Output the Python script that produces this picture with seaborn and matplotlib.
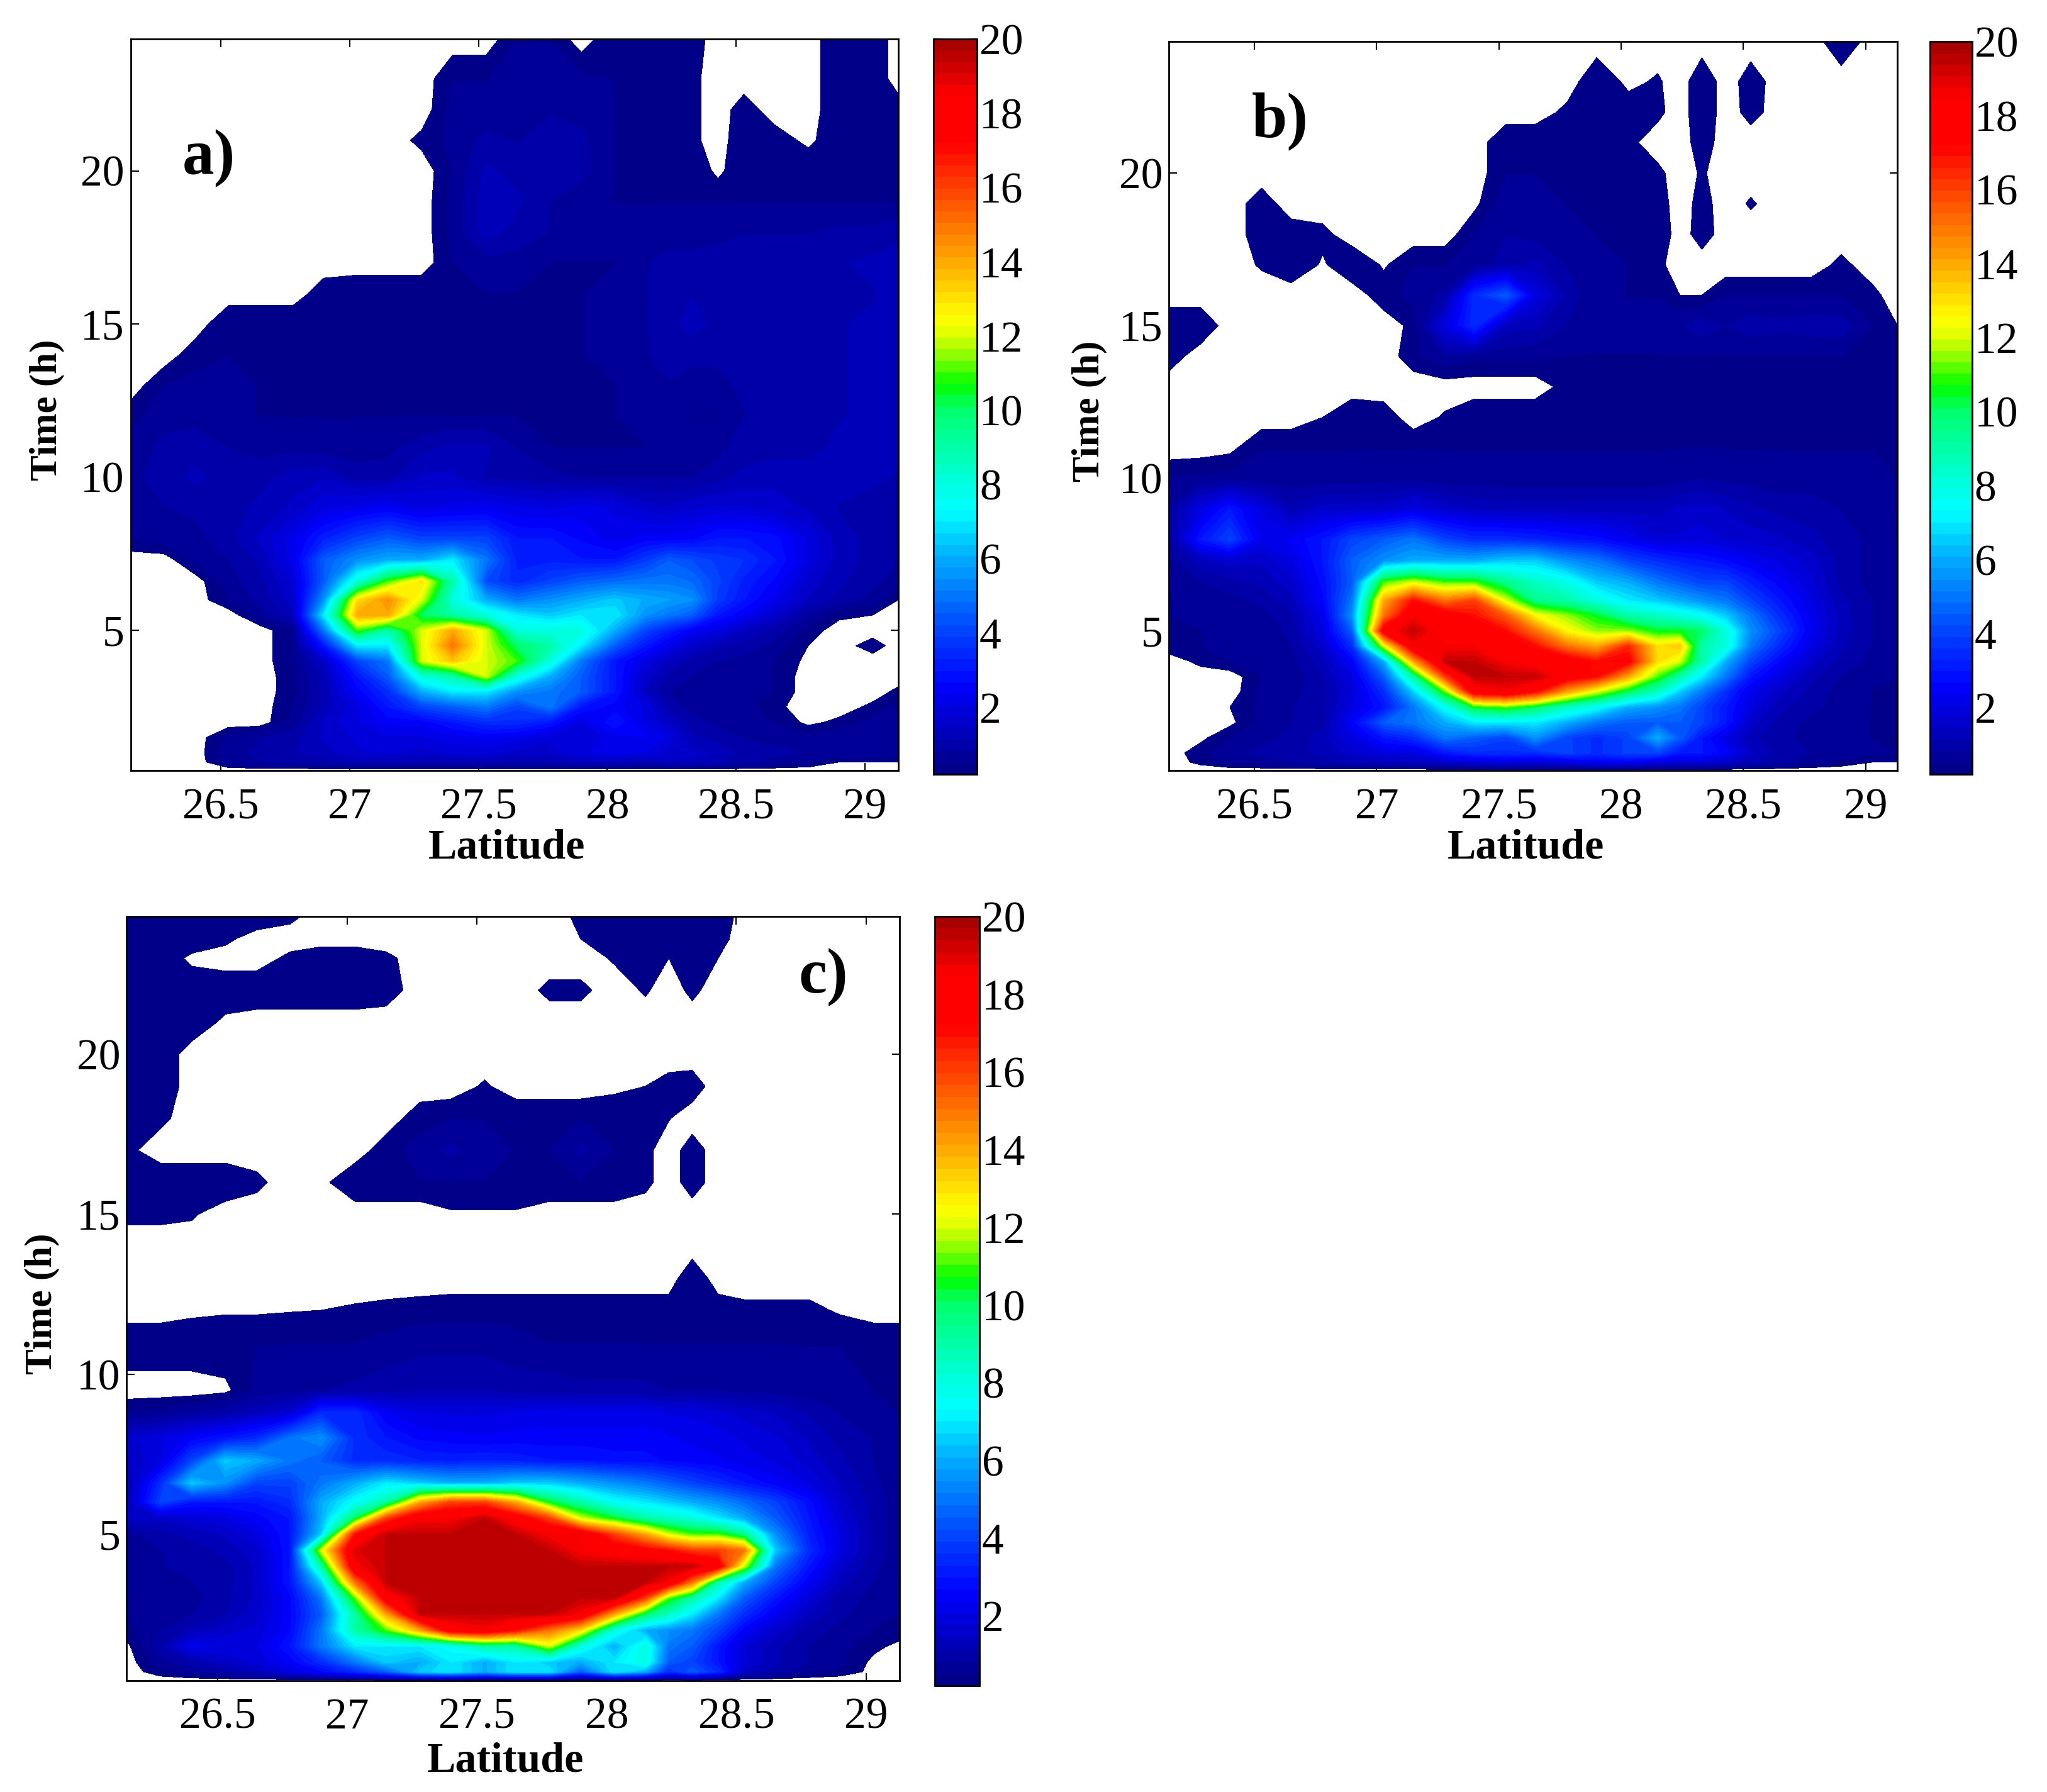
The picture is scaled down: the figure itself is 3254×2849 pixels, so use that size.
import numpy as np
import seaborn as sns
import matplotlib.pyplot as plt
from matplotlib.colors import ListedColormap

# grid of the three panels (0 = below the lowest contour, left white)
latitude = [26.15, 26.28, 26.40, 26.53, 26.65, 26.78, 26.90, 27.03, 27.15, 27.28, 27.40, 27.53, 27.65,
            27.78, 27.90, 28.03, 28.15, 28.24, 28.33, 28.43, 28.53, 28.65, 28.78, 28.90, 29.03, 29.13]
time_ab = [24.3, 23, 22, 21, 20, 19, 18, 17, 16, 15, 14, 13, 12, 11, 10, 9, 8, 7.3, 6.6, 6, 5.5, 5, 4.5,
           4, 3.5, 3, 2.5, 2, 1.5, 1, 0.7, 0.43]
time_c = [24.3, 23.6, 23, 22, 21, 20, 19, 18, 17, 16, 15, 14, 13, 12, 11, 9.5, 8.8, 8, 7.3, 6.6, 6, 5.5, 5, 4.5,
          4, 3.5, 3, 2.5, 2, 1.5, 1, 0.7, 0.43]

rain_a = [
    [0, 0, 0, 0, 0, 0, 0, 0, 0, 0, 0, 0, .5, .5, 0, .5, .5, .5, .4, 0, 0, 0, 0, .5, .5, 0],
    [0, 0, 0, 0, 0, 0, 0, 0, 0, 0, .5, .5, .6, .6, .6, .5, .5, .5, .3, 0, 0, 0, 0, .5, .5, 0],
    [0, 0, 0, 0, 0, 0, 0, 0, 0, 0, .6, .6, .7, .8, .7, .5, .5, .5, .3, 0, .4, 0, 0, .5, .5, .4],
    [0, 0, 0, 0, 0, 0, 0, 0, 0, .3, .6, .9, .8, .9, .9, .5, .5, .5, .3, 0, .5, .4, .1, .5, .5, .5],
    [0, 0, 0, 0, 0, 0, 0, 0, 0, 0, .5, 1.2, 1, 1.1, .9, .5, .5, .5, .5, .1, .5, .5, .5, .5, .5, .5],
    [0, 0, 0, 0, 0, 0, 0, 0, 0, 0, .6, 1.3, 1.2, .8, .7, .5, .5, .5, .5, .5, .5, .5, .5, .5, .5, .5],
    [0, 0, 0, 0, 0, 0, 0, 0, 0, 0, .6, 1.3, 1, .8, .7, .6, .6, .7, .7, .7, .8, .8, .8, .9, .9, 1],
    [0, 0, 0, 0, 0, 0, 0, 0, 0, 0, .5, .7, .7, .5, .5, .5, .8, .9, .9, 1, 1, 1.1, 1.1, 1.1, 1.2, 1.3],
    [0, 0, 0, 0, 0, 0, .4, .5, .5, .5, .5, .5, .5, .5, .5, .6, .8, 1, 1.1, 1, 1.1, 1, 1, 1, 1.1, 1.3],
    [0, 0, 0, .5, .5, .5, .5, .5, .5, .5, .5, .5, .5, .5, .5, .6, .8, 1, 1.3, 1, 1.1, 1.1, 1, 1.1, 1.2, 1.3],
    [0, 0, .4, .5, .5, .5, .5, .5, .5, .5, .5, .5, .5, .5, .5, .6, .8, .9, .9, .9, 1, 1.1, 1, 1.1, 1.2, 1.2],
    [0, .5, .6, .6, .5, .5, .5, .5, .5, .5, .5, .5, .5, .5, .5, .5, .7, .8, .7, .7, .9, 1, 1, 1.1, 1.2, 1.2],
    [.4, .7, .7, .6, .5, .5, .5, .5, .5, .5, .5, .5, .5, .5, .5, .5, .7, .8, .5, .5, .8, .9, .9, 1.1, 1.2, 1.2],
    [.6, .9, 1, .8, .7, .7, .6, .6, .7, 1, 1.2, 1.2, .8, .5, .5, .5, .5, .6, .7, .7, 1, 1, 1, 1.2, 1.3, 1.2],
    [.7, 1, 1.2, 1, 1, 1.3, 1.4, 1, 1, 1.5, 1.5, 1.1, 1, .9, .8, .8, .8, .8, .8, 1, 1.2, 1.3, 1.3, 1.3, 1.2, 1.1],
    [.5, .8, .9, 1, 1.2, 1.5, 2, 2.2, 2.4, 2, 2.2, 2.3, 2.1, 2, 2.2, 2, 1.6, 1.5, 1.7, 1.8, 1.8, 1.6, 1.4, 1.1, 1, .9],
    [.5, .7, .7, 1, 1.5, 2.2, 3.2, 4, 4.5, 4, 4, 4, 3, 3, 2.6, 2.2, 2.5, 2.5, 2.6, 3, 3, 2.8, 2, 1.3, 1, .9],
    [0, 0, .6, .8, 1.2, 2.2, 4.5, 5.5, 6, 6, 7, 5, 3.2, 3.2, 3, 3, 3.8, 4.5, 4.2, 3.8, 3.6, 3, 2, 1.3, 1, .8],
    [0, 0, 0, .7, 1, 1.8, 4.5, 8, 11, 13, 9, 4.2, 3.4, 4, 4.5, 4.8, 5, 5, 4.8, 4, 3.2, 2.6, 1.6, 1.2, .9, .7],
    [0, 0, 0, .5, .9, 1.6, 5.5, 13, 14.5, 12, 8, 6, 5, 5.5, 6, 6.5, 6, 5.8, 5.5, 3.8, 3, 2.2, 1.4, 1, .7, .2],
    [0, 0, 0, 0, .6, 1.3, 7, 14, 14, 10, 9, 8, 7, 6.5, 7, 7, 5.5, 5, 4.5, 3, 2.4, 1.6, .8, .3, .2, 0],
    [0, 0, 0, 0, 0, .5, 5, 11, 9, 12, 14, 12, 8, 8, 8, 6, 4, 3.2, 2.4, 2, 1.4, 1, .4, 0, 0, 0],
    [0, 0, 0, 0, 0, .5, 3, 7, 7, 12, 15, 12, 10, 9, 7, 4.5, 3, 2.2, 1.6, 1.2, 1, .7, .2, 0, .4, 0],
    [0, 0, 0, 0, 0, .5, 1.5, 4, 5, 12, 13.5, 12, 11, 8, 5, 3, 2, 1.4, 1, .8, .7, .5, .1, 0, 0, 0],
    [0, 0, 0, 0, 0, .4, 1.2, 3, 4.5, 8, 9, 12, 8, 6, 4.5, 3, 1.6, 1, .8, .7, .6, .5, 0, 0, 0, 0],
    [0, 0, 0, 0, 0, .4, 1.2, 2.5, 3.5, 6, 7, 7, 5.5, 5, 4.5, 3, 1.4, .8, .7, .6, .6, .5, 0, 0, 0, .3],
    [0, 0, 0, 0, 0, .5, 1.2, 2, 3, 4, 4.5, 5, 4, 5, 3, 2.5, 2, 1, .7, .6, .6, .3, 0, 0, .3, .6],
    [0, 0, 0, 0, 0, .6, 1.5, 2, 2.5, 2.5, 3, 3.5, 3.5, 3, 2, 3, 2, 1.5, 1, .7, .6, .5, .1, .3, .6, .7],
    [0, 0, 0, .6, .8, 1, 1.5, 1.8, 2, 2, 2.2, 2.4, 2.2, 1.8, 1.8, 2.2, 2.4, 2, 1.2, 1, .8, .7, .6, .7, .8, .7],
    [0, 0, 0, .7, .9, 1.1, 1.3, 1.7, 1.8, 1.6, 1.8, 1.8, 1.6, 1.6, 2, 2.2, 2, 1.6, 1.5, 1.4, 1, .9, .8, .8, .8, .7],
    [0, 0, 0, .6, .8, .9, 1, 1.2, 1.2, 1.1, 1.1, 1.2, 1, 1.1, 1.3, 1.3, 1.2, 1.4, 1.4, 1.2, .9, .7, .5, .2, .2, .2],
    [0, 0, 0, 0, 0, 0, 0, 0, 0, 0, 0, 0, 0, 0, 0, 0, 0, 0, 0, 0, 0, 0, 0, 0, 0, 0],
]

rain_b = [
    [0, 0, 0, 0, 0, 0, 0, 0, 0, 0, 0, 0, 0, 0, 0, 0, 0, 0, 0, 0, 0, 0, 0, .5, 0, 0],
    [0, 0, 0, 0, 0, 0, 0, 0, 0, 0, 0, 0, 0, 0, .5, .1, .25, 0, .5, 0, .4, 0, 0, 0, 0, 0],
    [0, 0, 0, 0, 0, 0, 0, 0, 0, 0, 0, 0, 0, .3, .5, .4, .3, 0, .5, 0, .35, 0, 0, 0, 0, 0],
    [0, 0, 0, 0, 0, 0, 0, 0, 0, 0, 0, .5, .5, .5, .5, .3, 0, 0, .4, 0, 0, 0, 0, 0, 0, 0],
    [0, 0, 0, 0, 0, 0, 0, 0, 0, 0, 0, .5, .5, .5, .5, .5, .3, 0, .25, 0, 0, 0, 0, 0, 0, 0],
    [0, 0, 0, .4, 0, 0, 0, 0, 0, 0, .1, .7, .6, .5, .5, .5, .4, 0, .35, 0, .25, 0, 0, 0, 0, 0],
    [0, 0, 0, .4, .4, .3, 0, 0, 0, 0, .5, .8, .7, .6, .5, .5, .5, 0, .4, 0, 0, 0, 0, 0, 0, 0],
    [0, 0, 0, .25, .5, .15, .5, .15, .5, .5, .6, 1, 1.2, .8, .6, .5, .3, 0, 0, 0, 0, 0, 0, .3, 0, 0],
    [0, 0, 0, 0, 0, 0, 0, .4, .6, .9, 3.5, 4.5, 2, 1, .6, .5, .5, .2, .2, .5, .5, .5, .5, .5, .3, 0],
    [.5, .5, 0, 0, 0, 0, 0, 0, .3, 2, 3.5, 1.3, 1.2, .8, .6, .6, .6, .8, 1, .8, 1, .9, 1, 1, .5, .2],
    [.4, 0, 0, 0, 0, 0, 0, 0, .4, .8, .6, .6, .6, .5, .5, .5, .5, .5, .5, .5, .5, .5, .5, .5, .5, .5],
    [0, 0, 0, 0, 0, 0, 0, 0, 0, 0, 0, 0, 0, .35, .5, .5, .5, .5, .5, .5, .5, .5, .5, .5, .5, .5],
    [0, 0, 0, 0, 0, .2, .5, .4, 0, .25, .5, .5, .5, .5, .5, .5, .5, .5, .5, .5, .5, .5, .5, .5, .5, .5],
    [0, 0, .1, .5, .5, .5, .5, .5, .5, .5, .5, .5, .5, .5, .5, .5, .5, .5, .5, .5, .5, .5, .5, .5, .5, .5],
    [.5, .6, .6, .6, .6, .6, .6, .7, .7, .6, .6, .6, .6, .6, .6, .6, .6, .7, .8, .7, .7, .6, .6, .6, .6, .5],
    [.8, 2, 3, 2, 1.2, 1.6, 1.6, 1.6, 2, 1.6, 1.4, 1.3, 1.3, 1.3, 1.3, 1.3, 1.3, 1.5, 1.6, 1.4, 1.2, 1, 1, .8, .6, .5],
    [.8, 3, 4, 2.2, 2.4, 3, 4, 4.5, 5, 4, 3.5, 3.5, 3.3, 3, 2.8, 2.3, 1.8, 1.8, 1.9, 1.7, 1.6, 1.5, 1.2, 1, .7, .5],
    [.7, 1.3, 1.6, 1.5, 2, 3, 4.6, 5.5, 6, 6, 6, 6.5, 6.5, 5.5, 5, 4, 3.5, 3.2, 3, 2.7, 2.3, 2, 1.6, 1, .7, .5],
    [.5, .8, 1, 1.2, 1.6, 2.8, 4.5, 11, 12, 11, 11, 9.5, 8.5, 7.8, 6.5, 6, 5, 4.5, 4, 4, 3.2, 2.5, 1.8, 1, .7, .5],
    [.5, .6, .7, .9, 1.3, 2.6, 5, 14, 17, 15, 16, 12, 9.5, 9, 8, 7, 6.5, 6, 5.5, 5, 4, 3, 2, 1.2, .8, .5],
    [.5, .6, .6, .7, 1, 2.2, 5.5, 15, 18.5, 18, 17, 15.5, 12.5, 11.5, 10.5, 9, 8.5, 8, 7.5, 6.5, 5, 3.5, 2.2, 1.3, .8, .5],
    [.5, .5, .6, .6, .9, 2, 4.5, 18, 19.4, 18, 18, 17, 15, 12.5, 11.5, 11.5, 10.5, 10.5, 10, 8, 5.5, 4, 2.3, 1.3, .8, .5],
    [.4, .5, .6, .6, .8, 1.6, 3.5, 12, 18.5, 18.5, 18.5, 18, 17, 15, 14, 16.5, 13, 13.5, 9, 8, 5, 3.4, 2, 1.2, .8, .5],
    [0, .3, .5, .6, .7, 1.3, 2.5, 6, 14, 19.4, 19.4, 18.5, 18, 18, 17, 17.5, 13, 12, 9, 6, 4, 2.6, 1.6, 1, .7, .5],
    [0, 0, 0, .5, .6, 1.1, 2, 4.5, 9, 16, 19.4, 19.4, 19.4, 18, 17, 14, 11, 9, 7, 5, 3, 2, 1.2, .8, .6, .5],
    [0, 0, 0, .6, .7, 1, 1.8, 3.5, 6.5, 11, 18, 18.5, 17, 14, 12, 10, 8.5, 6.5, 5, 3.5, 2.2, 1.5, 1, .7, .5, .5],
    [0, 0, .2, .6, .8, 1, 2, 3, 5, 7.5, 10.5, 11, 10, 8.5, 7.5, 6, 5.5, 5, 4, 3, 2, 1.2, .9, .7, .5, .5],
    [0, 0, .1, .6, .8, 1, 2.5, 4.5, 5, 6, 7, 7, 7, 6, 5, 4.5, 4.5, 4.5, 4, 3, 1.6, 1, .7, .6, .5, .5],
    [0, .1, .5, .7, .9, 1.3, 2, 3, 3.5, 5, 4.5, 4, 5.5, 4, 3.5, 4, 6, 4.5, 3, 2, 1.2, .9, .7, .6, .5, .5],
    [0, .4, .7, .9, 1, 1.2, 1.6, 2, 2, 3, 3.5, 3.5, 3.5, 4, 3.5, 4, 4, 3, 3, 2.5, 1.5, 1, .8, .7, .6, .5],
    [0, .3, .6, .7, .8, 1, 1.2, 1.3, 1.4, 1.6, 1.8, 2, 1.8, 2, 2.4, 2.4, 2, 1.8, 1.8, 1.6, 1.2, .9, .6, .4, .2, .2],
    [0, 0, 0, 0, 0, 0, 0, 0, 0, 0, 0, 0, 0, 0, 0, 0, 0, 0, 0, 0, 0, 0, 0, 0, 0, 0],
]

rain_c = [
    [.5, .5, .5, .5, .5, .3, 0, 0, 0, 0, 0, 0, 0, 0, .3, .5, .5, .5, .5, .5, 0, 0, 0, 0, 0, 0],
    [.5, .5, .5, .3, 0, 0, 0, 0, 0, 0, 0, 0, 0, 0, .2, .5, .5, .5, .5, .35, 0, 0, 0, 0, 0, 0],
    [.5, .5, .1, 0, 0, .3, .5, .5, .3, 0, 0, 0, 0, 0, 0, .25, .3, .2, .4, .2, 0, 0, 0, 0, 0, 0],
    [.5, .5, .5, .5, .5, .5, .5, .5, .4, 0, 0, 0, 0, .3, .3, 0, .25, 0, .3, 0, 0, 0, 0, 0, 0, 0],
    [.5, .5, .5, .1, 0, 0, 0, 0, 0, 0, 0, 0, 0, 0, 0, 0, 0, 0, 0, 0, 0, 0, 0, 0, 0, 0],
    [.5, .5, 0, 0, 0, 0, 0, 0, 0, 0, 0, 0, 0, 0, 0, 0, 0, 0, 0, 0, 0, 0, 0, 0, 0, 0],
    [.5, .5, 0, 0, 0, 0, 0, 0, 0, 0, 0, .25, 0, 0, 0, .1, .2, .35, .4, 0, 0, 0, 0, 0, 0, 0],
    [.5, .3, 0, 0, 0, 0, 0, 0, 0, .4, .5, .5, .5, .5, .5, .5, .5, .22, 0, 0, 0, 0, 0, 0, 0, 0],
    [.3, 0, 0, 0, 0, 0, 0, 0, .4, .6, .9, .6, .5, .5, .9, .5, .3, 0, .4, 0, 0, 0, 0, 0, 0, 0],
    [.5, .5, .5, .5, .3, 0, .1, .5, .5, .5, .5, .5, .5, .5, .5, .5, .3, 0, .4, 0, 0, 0, 0, 0, 0, 0],
    [.3, .3, .25, 0, 0, 0, 0, 0, 0, 0, .15, .15, .15, 0, 0, 0, 0, 0, 0, 0, 0, 0, 0, 0, 0, 0],
    [0, 0, 0, 0, 0, 0, 0, 0, 0, 0, 0, 0, 0, 0, 0, 0, 0, 0, 0, 0, 0, 0, 0, 0, 0, 0],
    [0, 0, 0, 0, 0, 0, 0, 0, 0, 0, 0, 0, 0, 0, 0, 0, 0, 0, .5, 0, 0, 0, 0, 0, 0, 0],
    [0, 0, .1, .15, .15, .18, .2, .25, .3, .35, .4, .4, .4, .4, .4, .4, .4, .4, .45, .4, .3, .3, .3, .15, 0, 0],
    [.5, .5, .5, .5, .5, .5, .5, .5, .6, .7, .7, .7, .6, .5, .5, .5, .5, .5, .5, .5, .5, .5, .5, .5, .5, .5],
    [0, 0, 0, .1, .6, .7, .8, .9, 1, 1.1, 1.1, 1.1, 1, 1, .9, .9, .9, .8, .8, .8, .7, .7, .6, .6, .5, .5],
    [.5, .6, .8, 1, 1.3, 1.7, 3.5, 3.5, 2.4, 2, 2, 2, 2.1, 2.2, 2.2, 2.2, 2.2, 2, 2, 1.8, 1.6, 1.4, 1.1, .8, .6, .5],
    [1.6, 2, 2.5, 3, 3.5, 5, 5.5, 3.5, 3, 2.6, 2.5, 2.4, 2.5, 2.5, 2.5, 2.5, 2.5, 2.4, 2.3, 2.2, 2, 1.8, 1.4, 1, .8, .6],
    [1.4, 2, 4, 6.5, 6, 5, 4.5, 3.5, 3.5, 3.3, 3.2, 3.3, 3.2, 3, 3, 2.8, 2.8, 2.6, 2.5, 2.4, 2.2, 2, 1.6, 1.2, .8, .6],
    [1, 3.5, 6.5, 5.5, 4, 4, 5, 6, 7, 6.5, 6, 6, 6.5, 6.5, 6, 5.5, 5, 4.5, 4, 3.5, 3, 2.5, 2, 1.4, .9, .6],
    [1.2, 4, 3, 3, 3, 3.5, 6, 7.5, 9, 14, 16, 16, 14, 10.5, 9, 7.5, 7, 6.5, 6, 5.5, 4.8, 4, 2.8, 1.6, 1, .6],
    [1.5, 1.5, 1.8, 2, 2.5, 3, 6, 10, 16, 18.5, 18.5, 19.4, 18, 16, 12, 10.5, 9, 8.5, 8, 7, 6, 4.5, 3, 1.8, 1, .6],
    [.7, 1, 1.2, 1.5, 2, 3, 6.5, 17, 19.4, 19.4, 19.4, 19.4, 19.4, 18.5, 18.5, 16, 14, 12, 11, 11, 9.5, 5.5, 3.2, 2, 1, .6],
    [.6, .8, 1, 1.2, 1.6, 3, 12, 19, 19.4, 19.4, 19.4, 19.4, 19.4, 19.4, 18.5, 18, 17.5, 17, 16, 16, 15, 6.5, 3.5, 2, 1, .6],
    [.6, .8, .9, 1, 1.5, 3, 9, 18.5, 19.4, 19.4, 19.4, 19.4, 19.4, 19.4, 19.4, 19.4, 19.4, 19.4, 19.4, 18, 12, 5, 3, 1.6, .9, .6],
    [.6, .7, .8, 1, 1.5, 3, 6.5, 15, 19.4, 19.4, 19.4, 19.4, 19.4, 19.4, 19.4, 19.4, 19.4, 18.5, 15, 9, 6, 4, 2.4, 1.3, .8, .5],
    [.5, .6, .7, 1, 1.5, 2.6, 5, 11, 18, 19.4, 19.4, 19.4, 19.4, 19.4, 19.4, 19.4, 16, 11, 9, 7, 4.5, 3, 1.8, 1, .7, .5],
    [.5, .6, .8, 1.1, 1.6, 2.6, 4.5, 9, 14, 19.4, 19.4, 19.4, 19.4, 19.4, 18.5, 14, 10, 8.5, 7, 5, 3.5, 2.3, 1.4, .9, .6, .5],
    [.4, .8, 1.2, 1.6, 1.8, 2.6, 5, 9, 11, 14, 18, 18.5, 17, 15, 13, 8, 6, 5.5, 5, 4, 2.5, 1.6, 1, .7, .5, .4],
    [.1, 1, 2.2, 2, 2, 3, 5, 7, 7, 7, 7.5, 9, 9, 12, 8, 6, 8, 5, 4.5, 3, 1.8, 1.2, .8, .6, .3, .1],
    [0, .7, 1, 1.5, 1.8, 2.5, 3.5, 5, 6.5, 6, 7, 6, 7, 6.5, 6, 7, 8, 4.5, 4, 3, 1.8, 1.2, .8, .6, .1, 0],
    [0, .4, .7, 1, 1.3, 2, 2.6, 3.5, 4.5, 6.5, 7, 6, 7, 7, 4.5, 7, 6, 3.5, 4.5, 3.5, 1.5, 1, .6, .4, .1, 0],
    [0, 0, 0, 0, 0, 0, 0, 0, 0, 0, 0, 0, 0, 0, 0, 0, 0, 0, 0, 0, 0, 0, 0, 0, 0, 0],
]

# colour scale of the colour bars, value and RGB
scale_values = [0.2, 2.6, 4, 6, 7.3, 8, 10, 10.7, 11.4, 12, 12.5, 14, 16, 17.2, 18.5, 19.5, 20]
scale_red = [0, 0, 0, 0, 0, 0, 0, 0, 128, 220, 255, 255, 255, 255, 255, 190, 160]
scale_green = [0, 0, 64, 170, 255, 255, 255, 255, 255, 255, 255, 170, 64, 0, 0, 0, 0]
scale_blue = [128, 255, 255, 255, 255, 225, 110, 0, 0, 0, 0, 0, 0, 0, 0, 0, 0]

lat_ticks = [26.5, 27, 27.5, 28, 28.5, 29]
lat_labels = ['26.5', '27', '27.5', '28', '28.5', '29']
time_ticks = [5, 10, 15, 20]
cbar_ticks = [2, 4, 6, 8, 10, 12, 14, 16, 18, 20]

W, H = 3255, 2849
SCALE = 3255 / 1568


def box(x0, x1, y0, y1):
    # axes rectangle from pixel positions in the 1568 wide view
    return [x0 * SCALE / W, 1 - y1 * SCALE / H, (x1 - x0) * SCALE / W, (y1 - y0) * SCALE / H]


def scale_maker(levels):
    mids = (levels[:-1] + levels[1:]) / 2
    rgb = np.column_stack([np.interp(mids, scale_values, c) for c in (scale_red, scale_green, scale_blue)]) / 255
    return ListedColormap(sns.color_palette(rgb.tolist()))


def panel_maker(fig, z, times, name, name_xy, ax_box, cbar_box):
    ax = fig.add_axes(box(*ax_box))
    cax = fig.add_axes(box(*cbar_box))
    levels = np.linspace(0.2, 20, 65)
    cs = ax.contourf(latitude, times, np.array(z), levels=levels, cmap=scale_maker(levels), antialiased=False)
    ax.set_xlim(26.15, 29.13)
    ax.set_ylim(0.43, 24.3)
    ax.set_xticks(lat_ticks, lat_labels)
    ax.set_yticks(time_ticks)
    ax.tick_params(direction='in', top=True, right=True, length=9, width=1.5, labelsize=50)
    ax.tick_params(axis='x', pad=20)
    ax.tick_params(axis='y', pad=7)
    ax.set_xlabel('Latitude', fontsize=49, fontweight='bold', va='center')
    ax.set_ylabel('Time (h)', fontsize=44, fontweight='bold', va='center')
    ax.xaxis.set_label_coords(0.49, -0.106)
    ax.yaxis.set_label_coords(-0.109, 0.493)
    ax.text(name_xy[0], name_xy[1], name, fontsize=73, fontweight='bold', va='center')
    for s in ax.spines.values():
        s.set_linewidth(2)
        s.set_visible(True)

    cb = fig.colorbar(cs, cax=cax, ticks=cbar_ticks)
    cb.ax.tick_params(direction='in', left=True, right=True, length=9, width=1.5, labelsize=50, pad=3)
    cb.outline.set_linewidth(2)
    return ax


sns.set_theme(style='ticks', font='Liberation Serif',
              rc={'text.color': 'black', 'axes.labelcolor': 'black', 'xtick.color': 'black',
                  'ytick.color': 'black', 'axes.edgecolor': 'black'})
plt.rcParams['font.family'] = ['Liberation Serif', 'DejaVu Serif']

fig = plt.figure(figsize=(W / 100, H / 100), dpi=100)
panel_maker(fig, rain_a, time_ab, 'a)', (26.35, 20.4), (100, 688, 30, 590), (715, 748, 30, 593))
panel_maker(fig, rain_b, time_ab, 'b)', (26.49, 21.7), (895, 1453, 32, 590), (1478, 1510, 32, 593))
panel_maker(fig, rain_c, time_c, 'c)', (28.74, 22.4), (97, 689, 702, 1287), (716, 750, 702, 1291))
fig.savefig('out.png', dpi=100)
